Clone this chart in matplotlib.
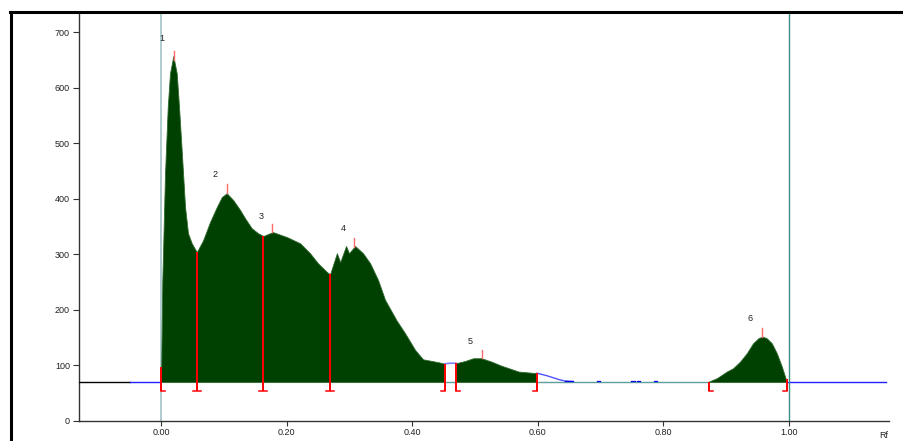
import numpy as np
import matplotlib
matplotlib.use("Agg")
import matplotlib.pyplot as plt
from matplotlib.lines import Line2D

plt.rcParams['font.family'] = ['Liberation Sans', 'DejaVu Sans']

# ---------------- data ----------------
rf = [0.000, 0.002, 0.0064, 0.0107, 0.0143, 0.0196, 0.025, 0.0287, 0.0319, 0.0351,
      0.0383, 0.0430, 0.0489, 0.057, 0.0669, 0.078, 0.0888, 0.0968, 0.1047, 0.1148,
      0.1259, 0.1339, 0.1445, 0.1546, 0.1631, 0.1737, 0.1785, 0.2008, 0.2215, 0.2374,
      0.250, 0.2645, 0.2693, 0.2802, 0.2855, 0.2948, 0.2996, 0.3092, 0.3219, 0.3331,
      0.3458, 0.357, 0.3754, 0.3888, 0.4048, 0.4175, 0.4414, 0.4526, 0.461, 0.4701,
      0.4844, 0.4976, 0.5104, 0.5263, 0.5422, 0.5698, 0.5992, 0.6146, 0.6359, 0.6438,
      0.6566, 0.700, 0.800, 0.8706, 0.8856, 0.9015, 0.9116, 0.9227, 0.9334, 0.9434,
      0.9519, 0.9582, 0.9652, 0.9732, 0.9812, 0.9892, 0.996, 0.998]
intensity = [70, 250, 446, 565, 626, 657, 626, 565, 506, 446,
             385, 338, 320, 304, 325, 358, 385, 403, 410, 398,
             380, 365, 347, 338, 333, 338, 340, 331, 320, 302,
             284, 268, 264, 302, 286, 315, 302, 315, 302, 284,
             254, 218, 181, 158, 128, 111, 106, 103, 104, 104,
             108, 113, 113, 107, 99.6, 89, 86, 81.6, 74, 72,
             71, 70.5, 70.3, 70, 77, 89, 95, 107, 122, 140,
             149, 152, 149, 140, 122, 98, 74, 70]

baseline = 70
zones = [(0.000, 0.4526), (0.4701, 0.5992), (0.8706, 0.998)]
separators_mid = [0.057, 0.1631, 0.2693]
peak_rf = [0.0207, 0.1047, 0.1769, 0.3076, 0.5116, 0.9582]
peak_labels = ['1', '2', '3', '4', '5', '6']
label_pos = [(0.0016, 689), (0.086, 443), (0.159, 369), (0.290, 347), (0.4925, 144), (0.9386, 184)]
blue_marks = [(0.6438, 0.6566), (0.695, 0.700), (0.749, 0.755), (0.759, 0.763), (0.786, 0.790)]
xticks = [0.0, 0.2, 0.4, 0.6, 0.8, 1.0]
xtick_labels = ['0.00', '0.20', '0.40', '0.60', '0.80', '1.00']
yticks = [0, 100, 200, 300, 400, 500, 600, 700]

rf = np.array(rf)
intensity = np.array(intensity, dtype=float)

# ---------------- figure ----------------
W, H = 904, 441
fig = plt.figure(figsize=(W / 100, H / 100), dpi=100)
ax_l, ax_r, ax_b, ax_t = 79, 889, 421, 12.7
ax = fig.add_axes([ax_l / W, (H - ax_b) / H, (ax_r - ax_l) / W, (ax_b - ax_t) / H])
ax.set_xlim(-0.1307, 1.160)
ax.set_ylim(0, 735)

GREEN = '#004000'
RED = '#ff0000'
LRED = '#ff6a6a'
BLUE = '#2020ff'
TEAL = '#5f9e9a'

# filled zones
for a, b in zones:
    m = (rf >= a - 1e-9) & (rf <= b + 1e-9)
    ax.fill_between(rf[m], baseline, intensity[m], facecolor=GREEN,
                    edgecolor='#2f6a2f', linewidth=0.6, zorder=2)

# signal outside zones (blue)
m = (rf >= 0.4526) & (rf <= 0.4701)
ax.plot(rf[m], intensity[m], color='#8080ff', lw=1.2, zorder=3)
m = (rf >= 0.5992) & (rf <= 0.6566)
ax.plot(rf[m], intensity[m], color='#5050ff', lw=1.0, zorder=3)

# baselines
ax.plot([0.4526, 0.4701], [baseline, baseline], color=TEAL, lw=1.0, zorder=3)
ax.plot([0.5992, 0.8706], [baseline, baseline], color=TEAL, lw=1.0, zorder=3)
for a, b in blue_marks:
    ax.plot([a, b], [baseline + 1.2, baseline + 1.2], color='#0000ee', lw=0.9, zorder=4)
ax.plot([-0.1307, -0.049], [baseline, baseline], color='black', lw=1.0, zorder=3)
ax.plot([-0.049, 0.0], [baseline, baseline], color=BLUE, lw=1.0, zorder=3)
ax.plot([0.998, 1.155], [baseline, baseline], color=BLUE, lw=1.0, zorder=3)

# front / start verticals
ax.axvline(0.0, color='#a3c4c6', lw=1.2, zorder=1)
ax.axvline(1.0, color='#3a8f88', lw=1.0, zorder=5)

# separators
bot = 54
hw = 0.0065
def sep(x, top, left, right):
    ax.plot([x, x], [bot, top], color=RED, lw=1.4, zorder=6, solid_capstyle='butt')
    x0 = x - hw if left else x
    x1 = x + hw if right else x
    ax.plot([x0, x1], [bot, bot], color=RED, lw=1.1, zorder=6)

sep(0.0, 97, False, True)
for s in separators_mid:
    sep(s, np.interp(s, rf, intensity), True, True)
sep(0.4526, np.interp(0.4526, rf, intensity), True, False)
sep(0.4701, np.interp(0.4701, rf, intensity), False, True)
sep(0.5992, np.interp(0.5992, rf, intensity), True, False)
sep(0.8726, baseline, False, True)
sep(0.998, 76, True, False)

# peak top ticks
for p in peak_rf:
    v = np.interp(p, rf, intensity)
    ax.plot([p, p], [v, v + 16], color=LRED, lw=1.0, zorder=6)

for lab, (x, y) in zip(peak_labels, label_pos):
    ax.text(x, y, lab, fontsize=6.5, ha='center', va='center', color='#222222', zorder=7)

# axes styling
for s in ['top', 'right']:
    ax.spines[s].set_visible(False)
for s in ['left', 'bottom']:
    ax.spines[s].set_color('#333333')
    ax.spines[s].set_linewidth(1.0)
ax.set_xticks(xticks)
ax.set_xticklabels(xtick_labels)
ax.set_yticks(yticks)
ax.tick_params(axis='both', direction='out', length=4.5, width=0.8, color='#333333',
               labelsize=6.5, labelcolor='#222222', pad=2)
ax.tick_params(axis='x', length=3.5, pad=1.5)

# outer frame
fig.add_artist(Line2D([10.5 / W, 10.5 / W], [0, 1 - 12 / H], color='black', lw=2.2,
                      transform=fig.transFigure))
fig.add_artist(Line2D([9.5 / W, 1], [1 - 12 / H, 1 - 12 / H], color='black', lw=2.2,
                      transform=fig.transFigure))
fig.text(884 / W, 6 / H, 'Rf', fontsize=6.5, ha='center', va='center', color='#222222')

fig.savefig('out.png', dpi=100)
